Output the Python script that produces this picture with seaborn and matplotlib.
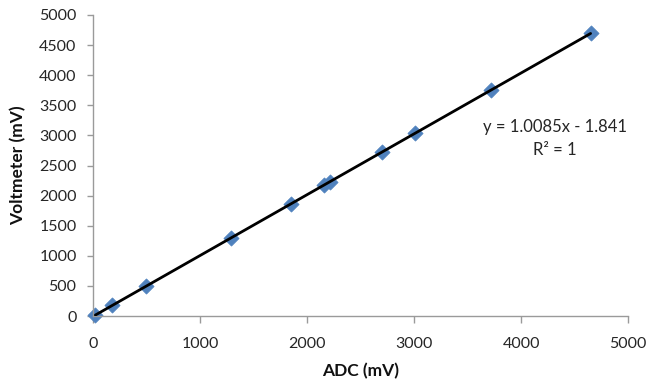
import matplotlib
matplotlib.use("Agg")
import matplotlib.pyplot as plt
import seaborn as sns
import numpy as np
import pandas as pd

adc_mv = [20, 180, 490, 1290, 1850, 2160, 2210, 2700, 3010, 3720, 4650]
volt_mv = [18, 180, 492, 1299, 1864, 2177, 2227, 2721, 3034, 3750, 4700]
x_ticks = [0, 1000, 2000, 3000, 4000, 5000]
y_ticks = [0, 500, 1000, 1500, 2000, 2500, 3000, 3500, 4000, 4500, 5000]
eq_text = "y = 1.0085x - 1.841"
r2_text = "R² = 1"

sns.set_style("white")
plt.rcParams['font.family'] = ['Lato', 'DejaVu Sans']

df = pd.DataFrame({"ADC (mV)": adc_mv, "Voltmeter (mV)": volt_mv})

fig = plt.figure(figsize=(6.66, 3.84), dpi=100)
ax = fig.add_axes([0.14, 0.177, 0.803, 0.784])

sns.regplot(data=df, x="ADC (mV)", y="Voltmeter (mV)", ax=ax, ci=None,
            marker="D", truncate=True,
            scatter_kws=dict(color="#4F81BD", s=60, alpha=1, edgecolors="#4F81BD",
                             linewidths=0.5, zorder=2, clip_on=False),
            line_kws=dict(color="black", lw=2, zorder=3))

ax.set_xlim(0, 5000)
ax.set_ylim(0, 5000)
ax.set_xticks(x_ticks)
ax.set_yticks(y_ticks)
ax.tick_params(axis="x", labelsize=11.5, colors="#9a9a9a", length=5, width=1,
               direction="out", bottom=True, labelcolor="#262626", pad=10)
ax.tick_params(axis="y", labelsize=11.5, colors="#9a9a9a", length=4, width=1,
               direction="out", left=True, labelcolor="#262626", pad=8)
for s in ["top", "right"]:
    ax.spines[s].set_visible(False)
for s in ["left", "bottom"]:
    ax.spines[s].set_color("#9a9a9a")
    ax.spines[s].set_linewidth(1)
ax.grid(False)
ax.set_xlabel("ADC (mV)", fontsize=12.5, fontweight="bold", labelpad=9, color="#111111")
ax.set_ylabel("Voltmeter (mV)", fontsize=12.5, fontweight="bold", labelpad=9, color="#111111")

ax.text(4320, 3140, eq_text, ha="center", va="center", fontsize=12, color="#262626")
ax.text(4320, 2760, r2_text, ha="center", va="center", fontsize=12, color="#262626")

fig.savefig("out.png", dpi=100)
